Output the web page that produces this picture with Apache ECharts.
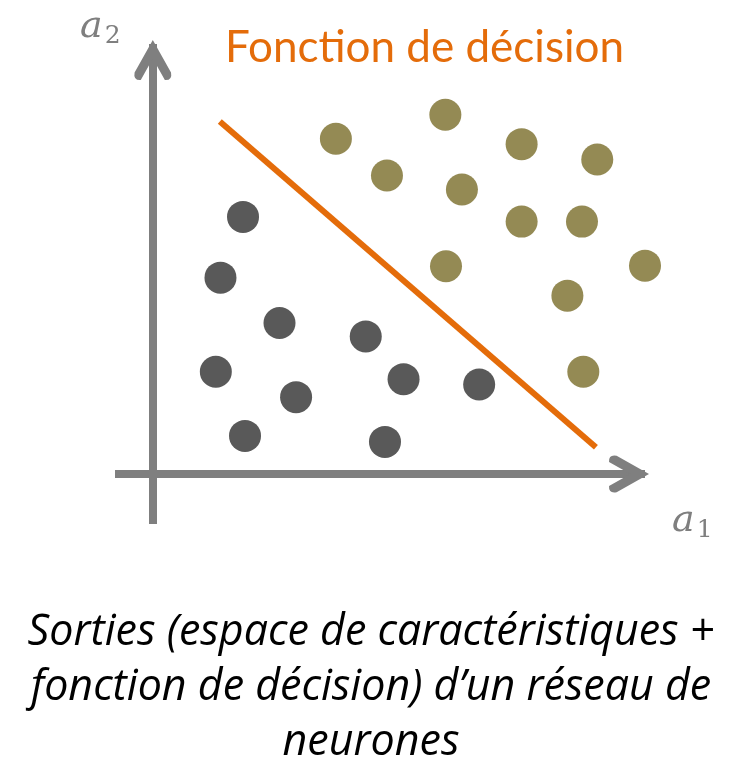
<!DOCTYPE html>
<html>
<head>
<meta charset="utf-8">
<script src="https://cdn.jsdelivr.net/npm/echarts@6/dist/echarts.min.js"></script>
<style>
  html, body { margin: 0; padding: 0; background: #fff; }
  #chart { width: 742px; height: 760px; }
</style>
</head>
<body>
<div id="chart"></div>
<script>
// points in feature space (a1, a2), origin = axes crossing
const classeA = [
  [1.36, 3.85], [1.02, 2.94], [1.91, 2.26], [3.21, 2.06], [0.95, 1.53],
  [2.16, 1.15], [3.78, 1.42], [4.92, 1.34], [1.39, 0.57], [3.50, 0.48]
];
const classeB = [
  [2.76, 5.02], [4.41, 5.38], [5.56, 4.94], [6.70, 4.71], [3.53, 4.47],
  [4.66, 4.26], [5.56, 3.78], [6.47, 3.78], [4.42, 3.11], [7.42, 3.12],
  [6.25, 2.67], [6.49, 1.53]
];
const frontiere = [[1.01, 5.28], [6.68, 0.40]];

const titre = 'Fonction de décision';
const legende = 'Sorties (espace de caractéristiques +\nfonction de décision) d’un réseau de\nneurones';

const GRIS = '#7F7F7F';
// chevron arrow head, pointing up (rotated by echarts along the axis)
const fleche = 'path://M20 0 L38 32 Q39.5 40 31.9 39.5 L20 18.4 L8.1 39.5 Q0.5 40 2 32 Z';

const chart = echarts.init(document.getElementById('chart'));

const axe = (min, max) => ({
  type: 'value',
  min: min,
  max: max,
  splitLine: { show: false },
  axisTick: { show: false },
  axisLabel: { show: false },
  axisLine: {
    show: true,
    onZero: true,
    symbol: ['none', fleche],
    symbolSize: [39, 40],
    symbolOffset: [0, -16],
    lineStyle: { color: GRIS, width: 8, cap: 'butt' }
  }
});

const etiquette = (indice) => ({
  text: '{a|a}{s|' + indice + '}',
  rich: {
    a: { fontFamily: 'DejaVu Serif', fontStyle: 'italic', fontSize: 38, fill: GRIS },
    s: { fontFamily: 'DejaVu Serif', fontSize: 25, fill: GRIS, padding: [18, 0, 0, 2] }
  }
});

chart.setOption({
  animation: false,
  backgroundColor: '#fff',
  grid: { left: 115, right: 97, top: 44, bottom: 236 },
  xAxis: axe(-0.57, 7.42),
  yAxis: axe(-0.75, 6.44),
  title: [
    {
      text: titre,
      left: 220,
      top: 21,
      textStyle: { color: '#E46C0A', fontSize: 44, fontWeight: 'normal', fontFamily: 'Lato' }
    },
    {
      text: legende,
      left: 'center',
      top: 600,
      textStyle: {
        color: '#000', fontSize: 43, fontWeight: 'normal', fontStyle: 'italic',
        fontFamily: 'Open Sans', lineHeight: 55
      }
    }
  ],
  graphic: [
    { type: 'text', left: 80, top: 8, style: etiquette(2) },
    { type: 'text', left: 672, top: 502, style: etiquette(1) }
  ],
  series: [
    {
      type: 'line',
      data: frontiere,
      symbol: 'none',
      clip: false,
      lineStyle: { color: '#E46C0A', width: 6, cap: 'butt' },
      z: 3
    },
    {
      type: 'scatter',
      data: classeA,
      symbolSize: 32,
      clip: false,
      itemStyle: { color: '#595959', opacity: 1 },
      z: 4
    },
    {
      type: 'scatter',
      data: classeB,
      symbolSize: 32,
      clip: false,
      itemStyle: { color: '#948A54', opacity: 1 },
      z: 4
    }
  ]
});
</script>
</body>
</html>
